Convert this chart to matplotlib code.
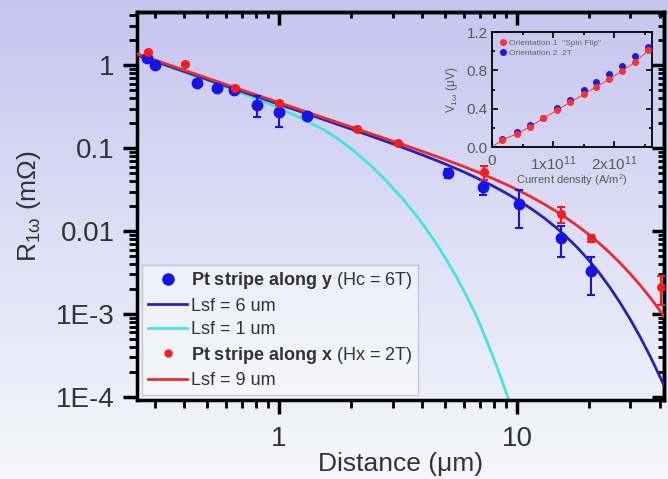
import numpy as np
import matplotlib
matplotlib.use("Agg")
import matplotlib.pyplot as plt
from matplotlib.ticker import FixedLocator, FixedFormatter, LogLocator, NullFormatter
from matplotlib.colors import LinearSegmentedColormap
from matplotlib.lines import Line2D

plt.rcParams['font.family'] = ['Liberation Sans', 'DejaVu Sans']
plt.rcParams['mathtext.fontset'] = 'custom'
plt.rcParams['mathtext.rm'] = 'Liberation Sans'
plt.rcParams['mathtext.bf'] = 'Liberation Sans:bold'
plt.rcParams['mathtext.it'] = 'Liberation Sans:italic'

# ---------------- data ----------------
# Pt stripe along y (blue points)
y_dist = [0.279, 0.30, 0.452, 0.549, 0.647, 0.808, 1.0, 1.31, 5.15, 7.2, 10.2, 15.3, 20.4]
y_R = [1.21, 1.00, 0.62, 0.54, 0.50, 0.33, 0.27, 0.243, 0.050, 0.034, 0.021, 0.0082, 0.0033]
y_err = [0.05, 0.04, 0.05, 0.03, 0.04, 0.095, 0.09, 0.02, 0.006, 0.007, 0.0100, 0.0033, 0.0016]

# Pt stripe along x (red points)
x_dist = [0.281, 0.403, 0.654, 1.0, 2.13, 3.16, 7.25, 15.3, 20.5, 40.5]
x_R = [1.43, 1.03, 0.54, 0.35, 0.17, 0.115, 0.051, 0.016, 0.0082, 0.0021]
x_err = [0.05, 0.03, 0.02, 0.02, 0.01, 0.005, 0.01, 0.0033, 0.0008, 0.0008]

# fit curves
fit_d = [0.25, 0.5, 1, 1.5, 2, 3, 4, 5, 6, 7, 8, 9, 10, 11.5, 13, 14.5, 16, 18, 20, 22, 24.5, 27,
         30, 33, 36.5, 40, 41.5]
lsf6_R = [1.346, 0.673, 0.339, 0.2277, 0.1713, 0.1133, 0.0832, 0.0645, 0.0516, 0.04195, 0.03457,
          0.02877, 0.02407, 0.0186, 0.01446, 0.01124, 0.00875, 0.00627, 0.0045, 0.00323, 0.002126,
          0.0014, 0.000854, 0.000525, 0.0003, 0.000173, 0.000138]
lsf9_R = [1.395, 0.700, 0.355, 0.2395, 0.1812, 0.1221, 0.0918, 0.0729, 0.0599, 0.0502, 0.0426,
          0.0366, 0.0317, 0.0258, 0.0212, 0.01758, 0.01464, 0.01154, 0.00916, 0.0073, 0.00552,
          0.00419, 0.00304, 0.00222, 0.00155, 0.00109, 0.000938]
lsf1_d = [0.25, 0.5, 0.7, 0.85, 1.0, 1.1, 1.26, 1.5, 1.72, 2.0, 2.41, 2.8, 3.32, 3.8, 4.18, 4.6,
          5.08, 5.6, 6.15, 6.8, 7.5, 8.2, 8.9, 9.3]
lsf1_R = [1.33, 0.665, 0.46, 0.37, 0.305, 0.27, 0.226, 0.1741, 0.137, 0.0999, 0.0633, 0.0416,
          0.0243, 0.01507, 0.0104, 0.00695, 0.00442, 0.00273, 0.00164, 0.00091, 0.00046, 0.00024,
          0.000125, 0.0000865]

# inset: V1w vs current density (units of 1e11 A/m^2)
j_vals = [0.159, 0.415, 0.623, 0.841, 1.06, 1.28, 1.50, 1.70, 1.92, 2.13, 2.34, 2.56]
v_or1 = [0.071, 0.141, 0.212, 0.300, 0.382, 0.470, 0.549, 0.626, 0.708, 0.796, 0.884, 1.008]
v_or2 = [0.088, 0.159, 0.230, 0.308, 0.407, 0.496, 0.591, 0.683, 0.761, 0.849, 0.948, 1.044]

y_ticks = [1, 0.1, 0.01, 1e-3, 1e-4]
y_ticklabels = ["1", "0.1", "0.01", "1E-3", "1E-4"]
x_ticks = [1, 10]
x_ticklabels = ["1", "10"]
inset_xticks = [0, 1, 2]
inset_xticklabels = ["0", r"1x10$^{11}$", r"2x10$^{11}$"]
inset_yticks = [0.0, 0.4, 0.8, 1.2]
inset_yticklabels = ["0.0", "0.4", "0.8", "1.2"]

# ---------------- figure ----------------
fig = plt.figure(figsize=(6.68, 4.79), dpi=100)

bg = fig.add_axes([0, 0, 1, 1], zorder=-10)
cmap = LinearSegmentedColormap.from_list("bg", ["#f7f7fb", "#dfdff6", "#c5c5ef"])
grad = np.linspace(0, 1, 256).reshape(-1, 1)
bg.imshow(grad, aspect='auto', cmap=cmap, origin='lower', extent=[0, 1, 0, 1])
bg.set_axis_off()

ax = fig.add_axes([0.205, 0.165, 0.789, 0.81])
ax.set_facecolor('none')
ax.set_xscale('log')
ax.set_yscale('log')
ax.set_xlim(0.253, 41.5)
ax.set_ylim(0.92e-4, 4.4)

blue_pt = '#1414e6'
red_pt = '#ff1a1a'
c_cyan = '#3ee8e0'
c_blue = '#2424b4'
c_red = '#ee2a2a'
ax.plot(lsf1_d, lsf1_R, color=c_cyan, lw=2.0, zorder=2)
ax.plot(fit_d, lsf6_R, color=c_blue, lw=2.0, zorder=3)
ax.plot(fit_d, lsf9_R, color=c_red, lw=2.0, zorder=4)
ax.errorbar(y_dist, y_R, yerr=y_err, fmt='o', color=blue_pt, ms=7.5, elinewidth=1.5, capsize=3,
            capthick=1.5, zorder=5)
ax.errorbar(x_dist, x_R, yerr=x_err, fmt='o', color=red_pt, ms=5.5, elinewidth=1.5, capsize=3,
            capthick=1.5, zorder=6)

for s in ax.spines.values():
    s.set_linewidth(2.5)
ax.yaxis.set_major_locator(FixedLocator(y_ticks))
ax.yaxis.set_major_formatter(FixedFormatter(y_ticklabels))
ax.xaxis.set_major_locator(FixedLocator(x_ticks))
ax.xaxis.set_major_formatter(FixedFormatter(x_ticklabels))
ax.xaxis.set_minor_locator(LogLocator(base=10, subs=np.arange(2, 10), numticks=20))
ax.yaxis.set_minor_locator(LogLocator(base=10, subs=np.arange(2, 10), numticks=20))
ax.xaxis.set_minor_formatter(NullFormatter())
ax.yaxis.set_minor_formatter(NullFormatter())
ax.tick_params(which='major', direction='out', length=10, width=2.5, labelsize=20,
               labelcolor='#333333', top=False, right=False)
ax.tick_params(which='minor', direction='out', length=6, width=2, top=False, right=False)
ax.tick_params(axis='x', which='major', pad=9)
ax.tick_params(axis='y', which='major', pad=6)
ax2t = ax.secondary_xaxis('top')
ax2t.xaxis.set_major_locator(FixedLocator(x_ticks))
ax2t.xaxis.set_minor_locator(LogLocator(base=10, subs=np.arange(2, 10), numticks=20))
ax2t.tick_params(which='major', direction='in', length=9, width=2.5, labeltop=False)
ax2t.tick_params(which='minor', direction='in', length=4.5, width=2)
ax2t.spines['top'].set_linewidth(2.5)
ax2r = ax.secondary_yaxis('right')
ax2r.yaxis.set_major_locator(FixedLocator(y_ticks))
ax2r.yaxis.set_minor_locator(LogLocator(base=10, subs=np.arange(2, 10), numticks=20))
ax2r.tick_params(which='major', direction='in', length=9, width=2.5, labelright=False)
ax2r.tick_params(which='minor', direction='in', length=4.5, width=2)
ax2r.spines['right'].set_linewidth(2.5)

ax.set_xlabel('Distance (μm)', fontsize=19, color='#333333', labelpad=0)
ax.set_ylabel('R$_{\\mathregular{1ω}}$ (mΩ)', fontsize=19, color='#333333', labelpad=9)

leg_handles = [
    Line2D([], [], ls='none', marker='o', ms=8, color=blue_pt),
    Line2D([], [], color=c_blue, lw=2.0),
    Line2D([], [], color=c_cyan, lw=2.0),
    Line2D([], [], ls='none', marker='o', ms=5, color=red_pt),
    Line2D([], [], color=c_red, lw=2.0),
]
leg_labels = [r'$\mathbf{Pt\ stripe\ along\ y}$ (Hc = 6T)', 'Lsf = 6 um', 'Lsf = 1 um',
              r'$\mathbf{Pt\ stripe\ along\ x}$ (Hx = 2T)', 'Lsf = 9 um']
leg = ax.legend(leg_handles, leg_labels, loc='lower left', bbox_to_anchor=(0.0, 0.0), fontsize=13,
                frameon=True, fancybox=False, handlelength=2.2, handletextpad=0.2, borderpad=0.3,
                labelspacing=0.36, borderaxespad=0.3)
leg.get_frame().set_facecolor('white')
leg.get_frame().set_alpha(0.45)
leg.get_frame().set_edgecolor('#999999')
for t in leg.get_texts():
    t.set_color('#333333')

# ---------------- inset ----------------
ins = fig.add_axes([0.7365, 0.693, 0.2395, 0.24])
ins.set_facecolor('none')
ins.plot([0] + j_vals, [0] + v_or1, color='#ff4a4a', lw=0.8, zorder=2)
ins.plot(j_vals, v_or2, 'o', color='#1a1ae6', ms=4, zorder=3)
ins.plot(j_vals, v_or1, 'o', color='#ff3030', ms=4, zorder=4)
ins.set_xlim(0, 2.62)
ins.set_ylim(0, 1.2)
ins.xaxis.set_major_locator(FixedLocator(inset_xticks))
ins.xaxis.set_major_formatter(FixedFormatter(inset_xticklabels))
ins.yaxis.set_major_locator(FixedLocator(inset_yticks))
ins.yaxis.set_major_formatter(FixedFormatter(inset_yticklabels))
ins.xaxis.set_minor_locator(FixedLocator([0.5, 1.5, 2.5]))
ins.yaxis.set_minor_locator(FixedLocator([0.2, 0.6, 1.0]))
ins.tick_params(which='both', direction='in', top=True, right=True, width=1.2, labelsize=11,
                labelcolor='#5a5a5a')
ins.tick_params(axis='x', pad=5)
ins.tick_params(axis='y', pad=3)
ins.tick_params(which='major', length=4)
ins.tick_params(which='minor', length=2.5)
for s in ins.spines.values():
    s.set_linewidth(1.3)
ins.set_xlabel('Current density (A/m$^{2}$)', fontsize=8, color='#5a5a5a', labelpad=0)
ins.set_ylabel('V$_{\\mathregular{1ω}}$ (μV)', fontsize=8.5, color='#5a5a5a', labelpad=5)
ih = [Line2D([], [], ls='none', marker='o', ms=4, color='#ff3030'),
      Line2D([], [], ls='none', marker='o', ms=4, color='#1a1ae6')]
il = ['Orientation 1  "Spin Flip"', 'Orientation 2  2T']
ileg = ins.legend(ih, il, loc='upper left', fontsize=6, frameon=False, handletextpad=0.3,
                  borderpad=0.3, labelspacing=0.25, handlelength=1.0)
for t in ileg.get_texts():
    t.set_color('#666666')

fig.savefig('out.png', dpi=100)
